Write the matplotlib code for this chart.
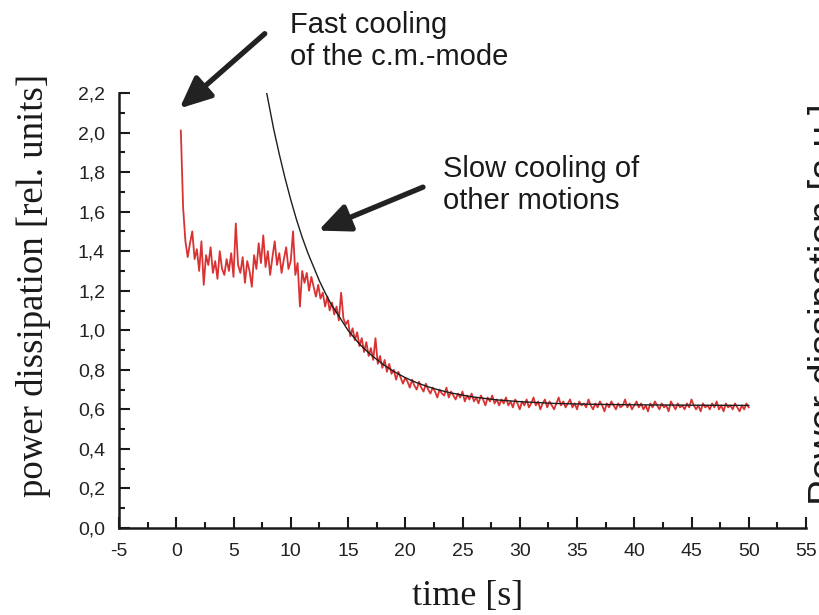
import numpy as np
import matplotlib
matplotlib.use("Agg")
import matplotlib.pyplot as plt
from matplotlib.ticker import MultipleLocator, FuncFormatter

# ---------------- data ----------------
t_start = 0.4
t_step = 0.2
power = [
    2.01, 1.62, 1.45, 1.37, 1.44, 1.50, 1.36, 1.41, 1.30, 1.45,
    1.23, 1.38, 1.33, 1.42, 1.29, 1.35, 1.26, 1.40, 1.31, 1.28,
    1.36, 1.30, 1.39, 1.27, 1.54, 1.33, 1.29, 1.37, 1.24, 1.35,
    1.30, 1.22, 1.38, 1.31, 1.44, 1.34, 1.48, 1.32, 1.40, 1.28,
    1.37, 1.45, 1.33, 1.39, 1.29, 1.36, 1.42, 1.31, 1.35, 1.50,
    1.28, 1.34, 1.12, 1.30, 1.24, 1.29, 1.20, 1.27, 1.22, 1.17,
    1.23, 1.16, 1.19, 1.12, 1.17, 1.10, 1.14, 1.08, 1.12, 1.05,
    1.19, 1.06, 1.03, 1.05, 0.97, 1.01, 0.95, 0.99, 0.92, 0.96,
    0.89, 0.94, 0.87, 0.91, 0.85, 0.96, 0.83, 0.87, 0.81, 0.85,
    0.79, 0.83, 0.78, 0.80, 0.75, 0.79, 0.76, 0.73, 0.76, 0.74,
    0.71, 0.75, 0.72, 0.70, 0.74, 0.71, 0.69, 0.73, 0.70, 0.68,
    0.71, 0.69, 0.66, 0.70, 0.68, 0.67, 0.71, 0.66, 0.69, 0.67,
    0.65, 0.68, 0.66, 0.69, 0.64, 0.67, 0.65, 0.68, 0.64, 0.66,
    0.63, 0.67, 0.65, 0.62, 0.66, 0.64, 0.67, 0.63, 0.65, 0.62,
    0.65, 0.63, 0.66, 0.62, 0.64, 0.61, 0.65, 0.63, 0.60, 0.64,
    0.62, 0.65, 0.61, 0.63, 0.66, 0.62, 0.64, 0.60, 0.63, 0.65,
    0.61, 0.64, 0.62, 0.60, 0.63, 0.66, 0.62, 0.64, 0.61, 0.63,
    0.65, 0.61, 0.63, 0.60, 0.64, 0.62, 0.63, 0.61, 0.65, 0.62,
    0.60, 0.63, 0.61, 0.64, 0.62, 0.59, 0.63, 0.61, 0.64, 0.62,
    0.60, 0.63, 0.61, 0.62, 0.65, 0.61, 0.63, 0.60, 0.62, 0.64,
    0.61, 0.63, 0.60, 0.62, 0.59, 0.63, 0.61, 0.64, 0.62, 0.60,
    0.63, 0.61, 0.62, 0.59, 0.64, 0.62, 0.60, 0.63, 0.61, 0.62,
    0.60, 0.63, 0.61, 0.65, 0.62, 0.60, 0.62, 0.59, 0.63, 0.61,
    0.62, 0.60, 0.63, 0.61, 0.64, 0.60, 0.62, 0.59, 0.63, 0.61,
    0.62, 0.60, 0.63, 0.61, 0.59, 0.62, 0.60, 0.63, 0.61,
]
time = t_start + t_step * np.arange(len(power))

fit_t = [7.9, 8.5, 9.0, 9.5, 10.0, 10.5, 11.0, 11.5, 12.0, 12.5, 13.0, 13.5,
         14.0, 15.0, 16.0, 17.0, 18.0, 19.0, 20.0, 21.0, 22.0, 23.0, 24.0,
         25.0, 26.0, 28.0, 30.0, 33.0, 36.0, 40.0, 45.0, 50.0]
fit_p = [2.20, 2.02, 1.89, 1.77, 1.66, 1.56, 1.47, 1.39, 1.32, 1.25, 1.19, 1.135,
         1.09, 1.00, 0.93, 0.876, 0.83, 0.792, 0.76, 0.735, 0.714, 0.697, 0.683,
         0.672, 0.662, 0.648, 0.639, 0.630, 0.626, 0.623, 0.621, 0.620]

x_ticks = list(range(-5, 56, 5))
y_ticks = [0.0, 0.2, 0.4, 0.6, 0.8, 1.0, 1.2, 1.4, 1.6, 1.8, 2.0, 2.2]

# ---------------- figure ----------------
W, H = 819, 615
fig = plt.figure(figsize=(W / 100, H / 100), dpi=100)
ax = fig.add_axes([119 / W, 1 - 528 / H, (806 - 119) / W, (528 - 93) / H])

ax.plot(time, power, color="#d83232", lw=1.3, zorder=2)
ax.plot(fit_t, fit_p, color="#1e1e1e", lw=1.0, zorder=3)

ax.set_xlim(-5, 55)
ax.set_ylim(0, 2.2)
ax.set_xticks(x_ticks)
ax.set_yticks(y_ticks)
ax.xaxis.set_minor_locator(MultipleLocator(2.5))
ax.yaxis.set_minor_locator(MultipleLocator(0.1))
ax.yaxis.set_major_formatter(FuncFormatter(lambda v, p: f"{v:.1f}".replace(".", ",")))
ax.xaxis.set_major_formatter(FuncFormatter(lambda v, p: f"{v:.0f}"))

for s in ("top", "right"):
    ax.spines[s].set_visible(False)
for s in ("left", "bottom"):
    ax.spines[s].set_linewidth(1.8)
    ax.spines[s].set_color("#1a1a1a")

ax.tick_params(which="major", direction="in", length=8, width=1.5,
               colors="#1a1a1a", labelsize=14)
ax.tick_params(axis="y", which="major", pad=10)
ax.tick_params(axis="x", which="major", pad=11)
ax.tick_params(which="minor", direction="in", length=4.5, width=1.5,
               colors="#1a1a1a")
for lab in ax.get_xticklabels() + ax.get_yticklabels():
    lab.set_family("Liberation Sans")
    lab.set_color("#222222")

# axis labels (serif)
fig.text(34 / W, 1 - 285 / H, "power dissipation [rel. units]", rotation=90,
         ha="center", va="center", family="Liberation Serif", fontsize=26.5,
         color="#1a1a1a")
fig.text(468 / W, 1 - 596 / H, "time [s]", ha="center", va="center",
         family="Liberation Serif", fontsize=26, color="#1a1a1a")

# cut-off label of the neighbouring panel
fig.text(808 / W, 1 - 304 / H, "Power dissipation [a.u.]", rotation=90,
         ha="left", va="center", family="Liberation Sans", fontsize=28,
         color="#1a1a1a")

# annotations
fig.text(290 / W, 1 - 11 / H, "Fast cooling\nof the c.m.-mode", ha="left",
         va="top", family="Liberation Sans", fontsize=21, linespacing=1.18,
         color="#1a1a1a")
fig.text(443 / W, 1 - 155 / H, "Slow cooling of\nother motions", ha="left",
         va="top", family="Liberation Sans", fontsize=21, linespacing=1.18,
         color="#1a1a1a")

arrow_kw = dict(arrowstyle="-|>,head_length=1.9,head_width=0.85",
                color="#222222", lw=3.8, shrinkA=0, shrinkB=0)
ax.annotate("", xy=(0.29, 2.122), xytext=(7.73, 2.50), arrowprops=arrow_kw,
            annotation_clip=False)
ax.annotate("", xy=(12.41, 1.504), xytext=(21.55, 1.724), arrowprops=arrow_kw,
            annotation_clip=False)

fig.savefig("out.png", dpi=100)
